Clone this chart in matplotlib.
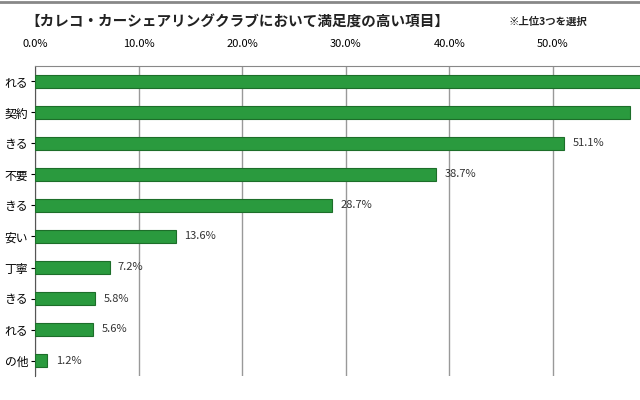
import matplotlib
matplotlib.use("Agg")
import matplotlib.pyplot as plt
from matplotlib.ticker import FixedLocator

plt.rcParams["font.family"] = "Noto Sans CJK JP"

categories = ["れる", "契約", "きる", "不要", "きる", "安い", "丁寧", "きる", "れる", "の他"]
values = [62.0, 57.4, 51.1, 38.7, 28.7, 13.6, 7.2, 5.8, 5.6, 1.2]
ticks = [0, 10, 20, 30, 40, 50]
tick_labels = ["0.0%", "10.0%", "20.0%", "30.0%", "40.0%", "50.0%"]

fig = plt.figure(figsize=(6.4, 4.0), dpi=100)
ax = fig.add_axes([35/640, 1-376/400, 1-35/640, 310/400])
y = list(range(len(categories)))
ax.barh(y, values, height=0.4, color="#2a9a3e", edgecolor="#1d6e2a", linewidth=0.8, zorder=3)
for yi, v in zip(y, values):
    if v < 56:
        ax.text(v + 0.8, yi, f"{v:.1f}%", va="center", ha="left", fontsize=8, color="#333333")
ax.set_ylim(len(categories) - 0.5, -0.5)
ax.set_xlim(0, 58.4)
ax.xaxis.set_major_locator(FixedLocator(ticks))
ax.set_xticklabels(tick_labels, fontsize=8)
ax.xaxis.tick_top()
ax.set_yticks(y)
ax.set_yticklabels(categories, fontsize=8.5)
ax.tick_params(axis="x", length=0, pad=12)
ax.tick_params(axis="y", length=3, pad=2)
ax.grid(axis="x", color="#999999", linewidth=1, zorder=0)
for s in ["right", "bottom"]:
    ax.spines[s].set_visible(False)
ax.spines["top"].set_color("#888888")
ax.spines["left"].set_color("#555555")
fig.text(25/640, 1-22/400, "【カレコ・カーシェアリングクラブにおいて満足度の高い項目】", fontsize=10.5, fontweight="bold", va="center", ha="left", color="#222222")
fig.text(508/640, 1-22/400, "※上位3つを選択", fontsize=7.5, fontweight="bold", va="center", ha="left", color="#222222")
fig.add_artist(plt.Line2D([0, 1], [0.995, 0.995], color="#888888", linewidth=2))
fig.savefig("out.png", dpi=100)
